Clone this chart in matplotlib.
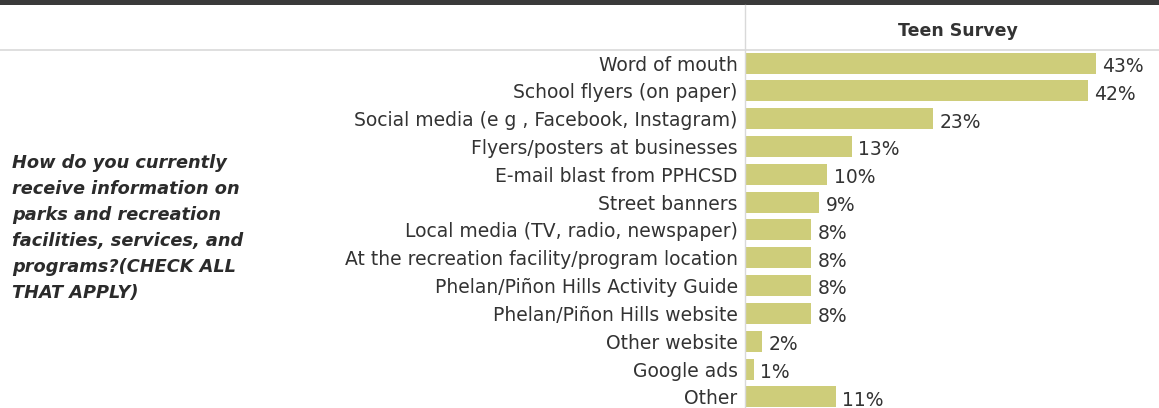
import matplotlib
matplotlib.use("Agg")
import matplotlib.pyplot as plt
from matplotlib.lines import Line2D
from matplotlib.patches import Rectangle

categories = [
    "Word of mouth",
    "School flyers (on paper)",
    "Social media (e g , Facebook, Instagram)",
    "Flyers/posters at businesses",
    "E-mail blast from PPHCSD",
    "Street banners",
    "Local media (TV, radio, newspaper)",
    "At the recreation facility/program location",
    "Phelan/Piñon Hills Activity Guide",
    "Phelan/Piñon Hills website",
    "Other website",
    "Google ads",
    "Other",
]
values = [43, 42, 23, 13, 10, 9, 8, 8, 8, 8, 2, 1, 11]
value_labels = ["43%", "42%", "23%", "13%", "10%", "9%", "8%", "8%", "8%", "8%", "2%", "1%", "11%"]
column_title = "Teen Survey"
question = ("How do you currently\nreceive information on\nparks and recreation\n"
            "facilities, services, and\nprograms?(CHECK ALL\nTHAT APPLY)")

plt.rcParams['font.family'] = ['DejaVu Sans']

W, H = 1159, 408
fig = plt.figure(figsize=(W / 100, H / 100), dpi=100)
fig.patch.set_facecolor("white")

def fx(px):
    return px / W

def fy(py):
    return 1 - py / H

# dark top strip
fig.add_artist(Rectangle((0, fy(5)), 1, 5 / H, transform=fig.transFigure,
                         facecolor="#3a3a3a", edgecolor="none"))
# header separator and vertical divider
fig.add_artist(Line2D([0, 1], [fy(50), fy(50)], transform=fig.transFigure,
                      color="#d9d9d9", lw=1.2))
fig.add_artist(Line2D([fx(745), fx(745)], [fy(5), 0], transform=fig.transFigure,
                      color="#d9d9d9", lw=1.0))

fig.text(fx(958), fy(31), column_title, ha="center", va="center",
         fontsize=12.5, fontweight="bold", color="#333333")

fig.text(fx(12), fy(228), question, ha="left", va="center",
         fontsize=12.8, fontweight="bold", style="italic", color="#2b2b2b",
         linespacing=1.56)

ax = fig.add_axes([fx(746), 0, 1 - fx(746), fy(50)])
ax.set_facecolor("none")
y = list(range(len(categories)))
ax.barh(y, values, height=0.755, color="#CECD7A", edgecolor="none")
ax.set_xlim(0, 50.7)
ax.set_ylim(12.40, -0.468)
for yi, v, lab in zip(y, values, value_labels):
    ax.text(v + 0.75, yi + 0.12, lab, ha="left", va="center",
            fontsize=13.5, color="#333333")
ax.set_yticks(y)
ax.set_yticklabels(categories, fontsize=13.5, color="#333333")
ax.tick_params(axis="y", length=0, pad=6)
ax.set_xticks([])
for s in ax.spines.values():
    s.set_visible(False)

fig.savefig("out.png", dpi=100, facecolor="white")
